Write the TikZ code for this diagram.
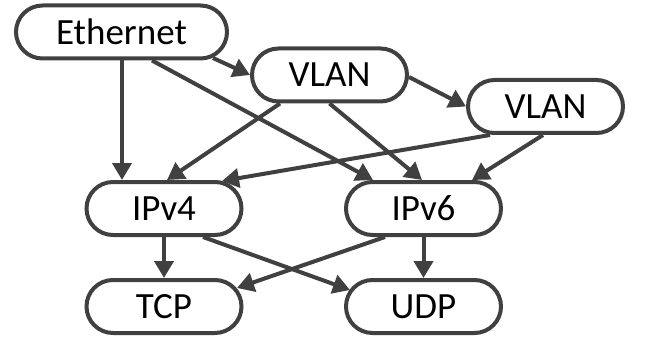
\documentclass[tikz,border=0pt]{standalone}
\usepackage{fontspec}
\setmainfont{Carlito}
\usetikzlibrary{arrows.meta,calc}
\definecolor{edgegray}{HTML}{404040}
\tikzset{
  proto/.style={draw=edgegray, line width=4pt, fill=white, rounded corners=26.5pt,
    minimum height=53pt, minimum width=155pt, inner sep=0pt, text=black,
    font=\fontsize{37}{40}\selectfont},
  conn/.style={draw=edgegray, line width=4pt, -{Triangle[length=17pt,width=19pt]}}
}
\begin{document}
\begin{tikzpicture}[x=1pt,y=-1pt]
\useasboundingbox (0,0) rectangle (660,339);
\node[proto, minimum width=211pt] (eth) at (121.5,32) {Ethernet};
\node[proto] (vlana) at (329.5,75) {VLAN};
\node[proto] (vlanb) at (545.5,106.5) {VLAN};
\node[proto] (ipv4) at (164,208.5) {IPv4};
\node[proto] (ipv6) at (423.5,208.5) {IPv6};
\node[proto] (tcp) at (164,306.5) {TCP};
\node[proto] (udp) at (423.5,306.5) {UDP};
\begin{scope}[on background layer/.style={}]
\draw[conn] ($(eth.center)+(91.5,26)$) -- (vlana.west);
\draw[conn] ($(eth.south)+(0.5,0)$) -- ($(ipv4.north)+(-42,0)$);
\draw[conn] ($(eth.south)+(30.5,0)$) -- ($(ipv6.north)+(-50.5,0)$);
\draw[conn] ($(vlana.south)+(-49.5,0)$) -- ($(ipv4.north)+(3,0)$);
\draw[conn] (vlana.south) -- ($(ipv6.north)+(-1.5,0)$);
\draw[conn] ($(vlana.east)+(0,2)$) -- (vlanb.west);
\draw[conn] ($(vlanb.south)+(-55.5,0)$) -- ($(ipv4.north)+(58,1)$);
\draw[conn] ($(vlanb.south)+(-2.5,0)$) -- ($(ipv6.north)+(48.5,0)$);
\draw[conn] (ipv4.south) -- (tcp.north);
\draw[conn] ($(ipv4.south)+(39,0)$) -- ($(udp.center)+(-73.5,-16.5)$);
\draw[conn] ($(ipv6.south)+(-38.5,0)$) -- ($(tcp.center)+(73,-18.5)$);
\draw[conn] (ipv6.south) -- (udp.north);
\end{scope}
\end{tikzpicture}
\end{document}
